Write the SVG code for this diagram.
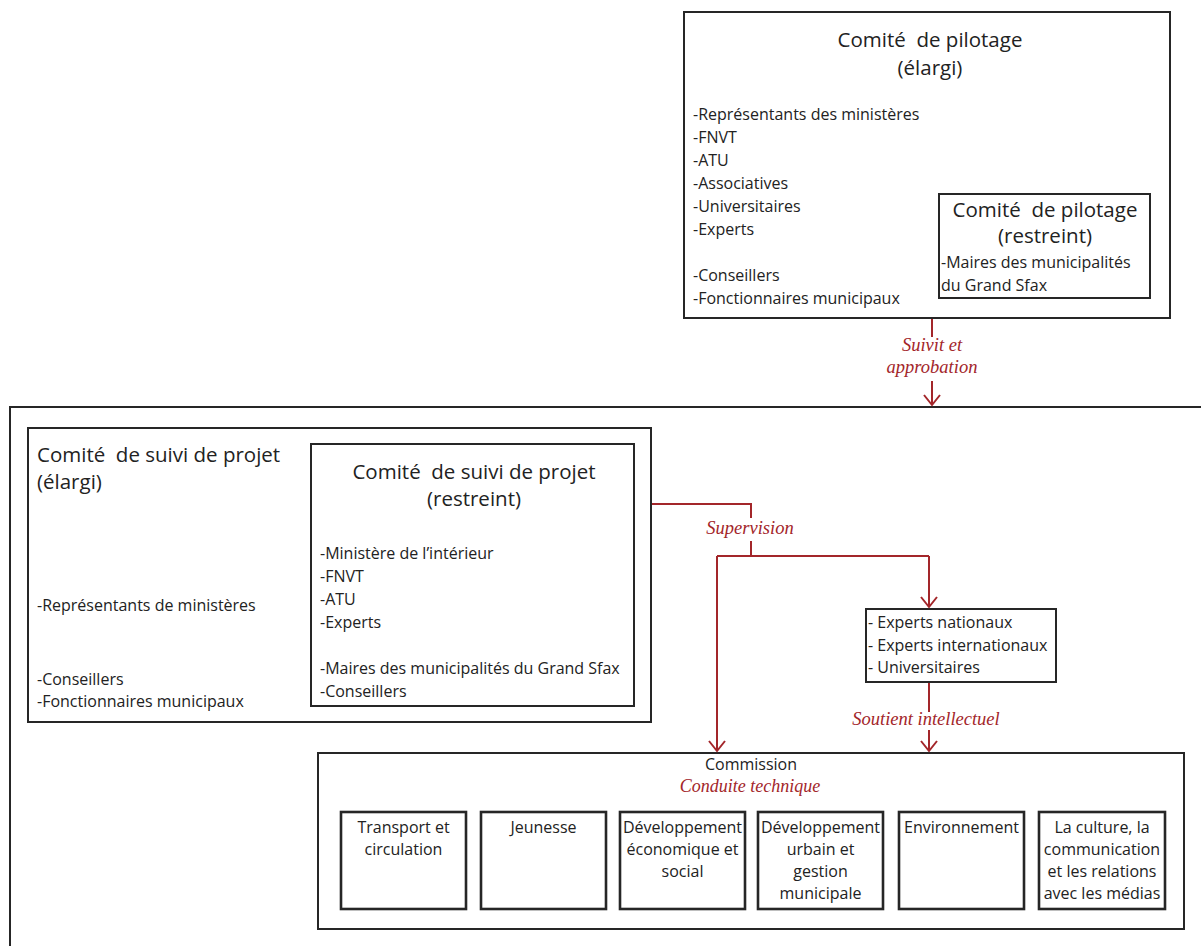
<svg xmlns="http://www.w3.org/2000/svg" width="1201" height="946" viewBox="0 0 1201 946">
<style>
.box{fill:none;stroke:#262626;stroke-width:2}
.sub{fill:#fff;stroke:#262626;stroke-width:2.6}
.t{font-family:"Open Sans","Liberation Sans",sans-serif;font-size:16px;fill:#222;white-space:pre}
.h{font-family:"Open Sans","Liberation Sans",sans-serif;font-size:20.5px;fill:#222;white-space:pre}
.c{text-anchor:middle}
.r{font-family:"Liberation Serif",serif;font-style:italic;font-size:18.5px;fill:#a3262a;text-anchor:middle}
.ln{fill:none;stroke:#a3262a;stroke-width:2}
</style>
<defs>
<marker id="arr" viewBox="-12 -10 14 20" refX="0" refY="0" markerWidth="14" markerHeight="20" orient="auto" markerUnits="userSpaceOnUse">
<path d="M-10,-8 L0,0 L-10,8" fill="none" stroke="#a3262a" stroke-width="2"/>
</marker>
</defs>
<rect width="1201" height="946" fill="#fff"/>

<g id="pilotage-elargi">
<rect class="box" x="684" y="12" width="486" height="306"/>
<text class="h c" x="930" y="47">Comité  de pilotage</text>
<text class="h c" x="930" y="75">(élargi)</text>
<text class="t" x="693" y="120">-Représentants des ministères</text>
<text class="t" x="693" y="143">-FNVT</text>
<text class="t" x="693" y="166">-ATU</text>
<text class="t" x="693" y="189">-Associatives</text>
<text class="t" x="693" y="212">-Universitaires</text>
<text class="t" x="693" y="235">-Experts</text>
<text class="t" x="693" y="281">-Conseillers</text>
<text class="t" x="693" y="304">-Fonctionnaires municipaux</text>
</g>

<g id="pilotage-restreint">
<rect class="box" x="939" y="194" width="211" height="104"/>
<text class="h c" x="1045" y="217">Comité  de pilotage</text>
<text class="h c" x="1045" y="243">(restreint)</text>
<text class="t" x="941" y="268">-Maires des municipalités</text>
<text class="t" x="941" y="291">du Grand Sfax</text>
</g>

<g id="cadre-projet">
<rect class="box" x="10" y="407" width="1200" height="560"/>
</g>

<g id="suivi-elargi">
<rect class="box" x="28" y="428" width="623" height="294"/>
<text class="h" x="37" y="462">Comité  de suivi de projet</text>
<text class="h" x="37" y="489">(élargi)</text>
<text class="t" x="37" y="611">-Représentants de ministères</text>
<text class="t" x="37" y="685">-Conseillers</text>
<text class="t" x="37" y="707">-Fonctionnaires municipaux</text>
</g>

<g id="suivi-restreint">
<rect class="box" x="311" y="444" width="323" height="262"/>
<text class="h c" x="474" y="479">Comité  de suivi de projet</text>
<text class="h c" x="474" y="506">(restreint)</text>
<text class="t" x="320" y="559">-Ministère de l’intérieur</text>
<text class="t" x="320" y="582">-FNVT</text>
<text class="t" x="320" y="605">-ATU</text>
<text class="t" x="320" y="628">-Experts</text>
<text class="t" x="320" y="674">-Maires des municipalités du Grand Sfax</text>
<text class="t" x="320" y="697">-Conseillers</text>
</g>

<g id="experts">
<rect class="box" x="866" y="609" width="190" height="73"/>
<text class="t" x="868" y="628">- Experts nationaux</text>
<text class="t" x="868" y="651">- Experts internationaux</text>
<text class="t" x="868" y="673">- Universitaires</text>
</g>

<g id="commission">
<rect class="box" x="318" y="753" width="866" height="176"/>
<text class="t c" x="751" y="770">Commission</text>
<text class="r" x="750" y="792" style="font-size:18px">Conduite technique</text>
</g>

<g id="transport">
<rect class="sub" x="341" y="812" width="125" height="97"/>
<text class="t c" x="403.5" y="833">Transport et</text>
<text class="t c" x="403.5" y="855">circulation</text>
</g>
<g id="jeunesse">
<rect class="sub" x="481" y="812" width="125" height="97"/>
<text class="t c" x="543.5" y="833">Jeunesse</text>
</g>
<g id="dev-eco">
<rect class="sub" x="620" y="812" width="125" height="97"/>
<text class="t c" x="682.5" y="833">Développement</text>
<text class="t c" x="682.5" y="855">économique et</text>
<text class="t c" x="682.5" y="877">social</text>
</g>
<g id="dev-urbain">
<rect class="sub" x="758" y="812" width="125" height="97"/>
<text class="t c" x="820.5" y="833">Développement</text>
<text class="t c" x="820.5" y="855">urbain et</text>
<text class="t c" x="820.5" y="877">gestion</text>
<text class="t c" x="820.5" y="899">municipale</text>
</g>
<g id="environnement">
<rect class="sub" x="899" y="812" width="125" height="97"/>
<text class="t c" x="961.5" y="833">Environnement</text>
</g>
<g id="culture">
<rect class="sub" x="1039" y="812" width="126" height="97"/>
<text class="t c" x="1102" y="833">La culture, la</text>
<text class="t c" x="1102" y="855">communication</text>
<text class="t c" x="1102" y="877">et les relations</text>
<text class="t c" x="1102" y="899">avec les médias</text>
</g>

<g id="connectors">
<path class="ln" d="M932,319 V337"/>
<path class="ln" d="M932,381 V405" marker-end="url(#arr)"/>
<text class="r" x="932" y="351">Suivit et</text>
<text class="r" x="932" y="373">approbation</text>

<path class="ln" d="M652,504 H751 V518"/>
<path class="ln" d="M751,541 V556"/>
<path class="ln" d="M717,556 H929"/>
<path class="ln" d="M717,556 V751" marker-end="url(#arr)"/>
<path class="ln" d="M929,556 V607" marker-end="url(#arr)"/>
<text class="r" x="750" y="534">Supervision</text>

<path class="ln" d="M929,683 V712"/>
<path class="ln" d="M929,730 V751" marker-end="url(#arr)"/>
<text class="r" x="926" y="725">Soutient intellectuel</text>
</g>
</svg>
